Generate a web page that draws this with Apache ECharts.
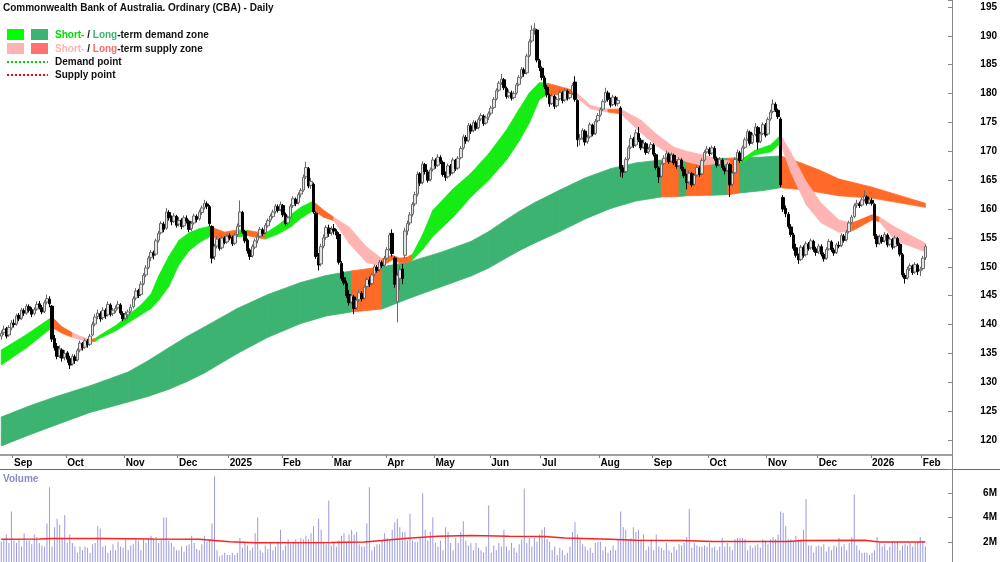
<!DOCTYPE html>
<html>
<head>
<meta charset="utf-8">
<title>CBA - Daily</title>
<script src="https://cdn.jsdelivr.net/npm/echarts@6.0.0/dist/echarts.min.js"></script>
<style>
  html, body { margin: 0; padding: 0; background: #fff; }
  #chart { width: 1000px; height: 562px; }
</style>
</head>
<body>
<div id="chart"></div>
<script>
// ASX non-trading days inside the range
const holidays = ['2024-12-25', '2024-12-26', '2025-01-01', '2025-01-27', '2025-04-18', '2025-04-21',
  '2025-04-25', '2025-06-09', '2025-12-25', '2025-12-26', '2026-01-01', '2026-01-26'];
const monthNames = ['Jan', 'Feb', 'Mar', 'Apr', 'May', 'Jun', 'Jul', 'Aug', 'Sep', 'Oct', 'Nov', 'Dec'];

// daily bars [open, high, low, close]
const aug24 = [[138.0,139.0,137.4,138.5],[138.6,139.8,138.2,139.2],[139.3,139.6,137.6,138.0],[138.2,139.9,137.9,139.5],[139.4,140.8,139.0,140.3]];
const sep24 = [[140.2,140.9,139.5,140.0],[140.1,141.9,139.8,141.5],[141.6,142.0,140.6,141.0],[141.1,142.9,140.8,142.5],[142.4,142.8,141.5,142.0],
  [142.0,143.6,141.7,143.2],[143.1,143.5,142.1,142.5],[142.6,143.0,141.3,141.8],[141.9,143.0,141.6,142.6],[142.7,144.0,142.4,143.5],
  [143.6,144.1,142.6,143.0],[142.9,143.4,141.8,142.2],[142.3,144.2,142.0,143.8],[143.9,145.2,143.5,144.5],[144.4,144.9,143.0,143.6],
  [143.2,143.4,137.0,137.5],[137.6,138.2,135.5,136.0],[136.2,136.8,134.0,134.5],[134.6,136.4,134.2,135.8],[135.6,135.9,133.6,134.2],
  [134.3,135.6,133.8,135.0]];
const oct24 = [[135.1,135.4,133.4,134.0],[134.1,134.6,132.3,133.0],[133.2,134.9,132.9,134.5],[134.4,134.8,133.2,133.8],[133.9,135.9,133.6,135.5],
  [135.6,137.2,135.2,136.8],[136.7,137.0,135.5,136.0],[136.1,137.6,135.8,137.2],[137.1,137.5,136.0,136.5],[136.6,138.4,136.3,138.0],
  [138.2,140.5,138.0,140.0],[140.1,141.8,139.7,141.3],[141.4,142.6,140.9,142.0],[141.9,142.3,140.5,141.0],[141.2,143.0,140.8,142.5],
  [142.4,142.8,141.0,141.5],[141.7,144.0,141.4,143.5],[143.4,143.7,141.4,141.8],[141.9,142.9,141.5,142.5],[142.4,143.3,142.0,142.8],
  [142.9,144.1,142.6,143.5],[143.4,143.7,141.7,142.0],[141.9,142.3,140.6,141.0]];
const nov24 = [[141.1,142.3,140.7,141.8],[141.7,142.6,141.0,142.2],[142.3,143.5,142.0,143.0],[143.1,144.9,142.8,144.5],[144.6,146.3,144.2,145.8],
  [145.9,146.2,144.6,145.0],[145.2,147.5,144.9,147.0],[147.1,148.9,146.8,148.5],[148.6,150.3,148.2,149.8],[149.9,151.9,149.6,151.5],
  [151.6,152.9,151.0,152.5],[152.4,152.8,151.3,152.0],[152.2,154.9,151.9,154.5],[154.6,156.2,154.2,155.8],[155.9,157.9,155.6,157.5],
  [157.4,157.8,156.0,156.5],[156.7,160.2,156.4,159.5],[159.4,159.8,158.0,158.5],[158.4,158.9,157.2,157.8],[157.9,159.3,157.6,158.8],
  [158.7,159.0,156.8,157.2]];
const dec24 = [[157.4,158.6,157.0,158.0],[158.1,158.4,156.5,157.0],[157.1,158.9,156.8,158.5],[158.4,158.9,157.5,158.0],[157.9,158.2,156.0,156.5],
  [156.6,157.9,156.2,157.5],[157.6,159.2,157.3,158.8],[158.7,159.1,157.7,158.2],[158.3,159.9,158.0,159.5],[159.4,160.6,159.0,160.2],
  [160.3,161.6,159.9,161.0],[160.9,161.3,160.0,160.5],[160.4,160.7,157.0,157.5],[157.0,157.2,150.6,151.5],[151.8,154.0,151.2,153.5],
  [153.6,155.3,153.2,154.8],[154.7,155.0,152.8,153.2],[153.3,155.4,153.0,155.0],[155.0,155.3,153.9,154.2],[154.3,155.7,154.0,155.3]];
const jan25 = [[155.4,155.8,154.6,155.0],[155.1,155.4,153.6,154.0],[154.1,155.9,153.8,155.5],[155.6,157.5,155.2,157.0],[157.1,161.5,156.9,159.5],
  [159.4,159.7,155.7,156.0],[156.1,156.4,154.1,154.5],[154.6,154.9,152.3,152.8],[152.9,153.2,151.2,151.8],[151.9,153.9,151.6,153.5],
  [153.4,154.9,153.1,154.5],[154.6,155.6,154.1,155.2],[155.3,156.9,155.0,156.5],[156.4,156.8,155.3,155.8],[155.9,157.6,155.6,157.2],
  [157.1,158.4,156.8,158.0],[158.1,159.2,157.7,158.8],[158.7,159.9,158.4,159.5],[159.6,160.9,159.2,160.5],[160.4,160.8,159.4,159.8],
  [159.9,161.3,159.6,160.8]];
const feb25 = [[160.6,160.9,158.6,159.0],[159.1,159.4,157.1,157.5],[157.6,158.9,157.2,158.5],[158.6,160.9,158.3,160.5],[160.6,162.2,160.2,161.8],
  [161.7,162.0,160.5,161.0],[161.1,162.9,160.8,162.5],[162.6,163.6,162.0,163.2],[163.3,166.0,163.0,165.5],[165.6,168.2,165.2,167.2],
  [167.0,167.3,163.6,164.0],[164.1,165.4,163.5,164.8],[164.3,164.6,159.2,159.5],[159.3,159.6,151.4,151.8],[151.6,152.4,149.4,150.3],
  [150.5,154.0,150.1,153.5],[153.6,155.6,153.2,155.0],[155.1,157.2,154.7,156.8],[156.7,157.3,155.2,155.8],[155.9,157.0,155.4,156.5]];
const mar25 = [[156.6,157.4,155.6,156.2],[156.1,156.5,154.8,155.5],[155.6,156.0,150.4,150.8],[150.6,151.0,147.6,148.0],[148.1,149.2,146.8,147.2],
  [147.1,147.6,144.6,145.0],[145.2,146.0,143.3,143.8],[143.9,145.4,143.5,145.0],[144.8,145.1,141.8,142.8],[142.9,144.6,142.5,144.2],
  [144.3,146.0,143.9,145.5],[145.4,145.8,144.0,144.5],[144.6,146.9,144.3,146.5],[146.6,148.2,146.2,147.8],[147.7,148.3,146.5,147.0],
  [147.1,149.0,146.8,148.6],[148.7,150.4,148.3,150.0],[149.9,150.3,149.0,149.4],[149.5,151.2,149.1,150.8],[150.7,151.1,149.8,150.2],
  [150.3,151.9,150.0,151.4]];
const apr25 = [[151.5,153.4,151.2,153.0],[153.1,155.9,152.8,155.5],[155.8,156.5,151.8,152.3],[151.5,151.8,146.4,147.0],[144.0,149.0,140.4,148.5],
  [148.0,150.2,146.0,149.5],[149.6,150.5,147.0,148.0],[152.0,156.8,151.5,156.2],[156.2,158.0,155.5,157.5],[157.6,159.5,157.2,159.0],
  [159.1,161.2,158.7,160.8],[160.9,163.0,160.5,162.5],[162.6,166.5,162.2,166.0],[166.1,166.4,164.0,164.5],[164.6,168.3,164.3,167.8],
  [167.7,168.0,166.0,166.5],[166.4,166.8,164.6,165.0],[165.1,167.2,164.8,166.8],[166.9,169.0,166.5,168.5]];
const may25 = [[168.4,168.8,167.0,167.5],[167.6,169.5,167.3,169.0],[168.9,169.3,167.8,168.2],[168.1,168.4,165.6,166.0],[166.1,166.5,164.9,165.5],
  [165.6,167.9,165.3,167.5],[167.4,167.8,165.8,166.2],[166.3,168.9,166.0,168.5],[168.4,168.7,166.6,167.0],[167.1,169.2,166.8,168.8],
  [168.9,170.9,168.6,170.5],[170.6,172.9,170.3,172.5],[172.4,172.8,171.3,171.8],[171.9,174.9,171.6,174.5],[174.4,174.8,173.0,173.5],
  [173.6,175.4,173.3,175.0],[174.9,175.3,173.6,174.0],[174.1,175.9,173.8,175.5],[175.6,176.6,175.2,176.2],[176.1,176.4,174.4,174.8],
  [174.9,176.2,174.6,175.8],[175.9,176.9,175.4,176.5]];
const jun25 = [[176.6,177.9,176.2,177.5],[177.6,179.4,177.3,179.0],[179.1,180.9,178.8,180.5],[180.6,182.2,180.3,181.8],[181.9,183.4,181.5,182.5],
  [182.4,182.7,180.6,181.0],[180.9,181.2,179.1,179.5],[179.6,180.7,179.2,180.2],[180.1,180.5,178.8,179.2],[179.3,180.4,179.0,180.0],
  [180.1,181.9,179.8,181.5],[181.6,183.2,181.3,182.8],[182.9,184.6,182.6,184.2],[184.1,184.5,182.9,183.5],[183.6,186.9,183.3,186.5],
  [186.6,189.4,186.3,189.0],[189.1,191.8,188.8,191.0],[191.1,192.2,190.2,191.3],[191.0,191.2,185.4,185.8],[185.7,186.0,183.9,184.5]];
const jul25 = [[184.4,184.7,182.3,182.8],[182.7,183.1,180.8,181.2],[181.1,181.5,179.3,179.8],[179.7,180.0,177.7,178.2],[178.3,180.0,178.0,179.6],
  [179.5,179.8,177.3,177.8],[177.9,179.4,177.6,179.0],[179.1,180.6,178.8,180.2],[180.1,180.4,178.3,178.8],[178.9,180.9,178.6,180.5],
  [180.4,180.7,178.8,179.2],[179.3,180.4,179.0,180.0],[180.1,181.8,179.8,181.4],[182.0,183.0,178.6,179.0],[178.8,179.0,170.8,172.0],
  [172.1,173.0,171.0,172.2],[172.3,174.0,172.0,173.6],[173.5,173.8,171.0,171.6],[171.7,172.9,171.3,172.4],[172.5,175.0,172.2,174.6],
  [174.5,174.8,172.6,173.0],[173.1,175.6,172.8,175.2],[175.3,176.6,175.0,176.2]];
const aug25 = [[176.3,177.6,176.0,177.2],[177.3,179.0,177.0,178.6],[178.7,181.0,178.4,180.2],[180.1,180.5,178.6,179.0],[178.9,179.3,177.6,178.0],
  [178.1,179.8,177.8,179.4],[179.3,179.6,177.8,178.2],[178.3,179.4,177.9,178.8],[177.5,177.8,165.6,167.0],[167.1,167.6,165.4,166.4],
  [166.5,169.0,166.2,168.6],[168.7,171.0,168.4,170.6],[170.7,172.8,170.4,172.2],[172.1,172.5,170.6,171.0],[171.1,173.8,170.8,173.2],
  [173.1,174.2,171.6,172.0],[171.9,172.3,170.2,170.6],[170.7,172.0,170.4,171.4],[171.3,171.6,169.4,169.8],[169.9,170.8,169.5,170.4],
  [170.5,171.6,170.2,171.2]];
const sep25 = [[171.1,171.4,169.1,169.5],[169.4,169.7,166.8,167.2],[167.1,167.4,164.5,165.6],[165.7,168.2,165.4,167.8],[167.9,169.3,167.6,168.8],
  [168.9,170.1,168.5,169.6],[169.5,169.8,167.8,168.2],[168.3,169.8,168.0,169.4],[169.3,169.6,167.6,168.0],[167.9,168.3,167.0,167.4],
  [167.5,169.0,167.2,168.6],[168.5,168.8,166.6,167.0],[166.9,167.3,165.4,165.8],[165.7,166.1,163.4,164.6],[164.7,166.7,164.3,166.2],
  [166.1,166.4,163.8,164.2],[164.3,166.2,164.0,165.8],[165.9,167.6,165.6,167.2],[167.1,167.5,165.6,166.0],[166.1,168.8,165.8,168.4],
  [168.5,170.2,168.2,169.8],[169.9,170.9,169.6,170.4]];
const oct25 = [[170.3,170.7,169.2,169.6],[169.7,171.0,169.4,170.6],[170.5,170.9,168.4,168.8],[168.7,169.1,167.2,167.6],[167.7,169.0,167.4,168.6],
  [168.5,168.8,166.8,167.2],[167.1,167.5,166.0,166.6],[166.7,168.2,166.4,167.8],[167.7,168.0,162.1,164.2],[164.3,166.6,163.9,166.2],
  [166.3,169.0,166.0,168.6],[168.7,170.3,168.4,169.8],[169.7,170.1,168.0,168.4],[168.5,171.0,168.2,170.6],[170.7,172.4,170.4,172.0],
  [172.1,173.8,171.8,173.4],[173.3,173.6,171.0,171.4],[171.5,173.2,171.2,172.8],[172.9,174.9,172.6,174.2],[174.1,174.4,170.3,171.6],
  [171.7,173.4,171.4,173.0],[173.1,175.0,172.8,174.6],[174.5,174.9,172.4,172.8]];
const nov25 = [[173.0,175.9,172.7,175.5],[175.6,177.2,175.3,176.8],[176.9,179.0,176.6,178.2],[178.1,178.5,176.8,177.2],[177.1,177.4,175.6,176.0],
  [175.6,175.9,163.8,164.2],[162.0,162.4,159.5,160.0],[160.1,160.6,158.6,159.2],[159.1,159.5,156.6,157.0],[156.9,157.4,155.2,155.6],
  [155.5,155.9,152.8,153.2],[153.3,154.0,151.6,152.0],[151.9,152.3,150.5,151.2],[151.3,153.8,151.0,153.4],[153.3,153.7,151.6,152.0],
  [152.1,154.4,151.8,154.0],[153.9,154.3,152.8,153.2],[153.3,154.9,153.0,154.5],[154.4,154.7,152.6,153.0],[153.1,153.5,151.9,152.5]];
const dec25 = [[152.6,154.0,152.2,153.6],[153.5,153.9,151.8,152.2],[152.1,152.5,150.9,151.4],[151.5,153.4,151.2,153.0],[153.1,154.8,152.8,154.4],
  [154.3,154.6,152.6,153.0],[152.9,153.3,151.9,152.4],[152.5,154.2,152.2,153.8],[153.7,154.4,153.2,153.6],[153.7,155.8,153.4,155.4],
  [155.3,155.7,154.2,154.6],[154.7,156.4,154.4,156.0],[156.1,158.0,155.8,157.6],[157.7,159.0,157.4,158.6],[158.7,161.0,158.4,160.6],
  [160.7,161.6,160.2,161.0],[160.9,161.3,160.2,160.6],[160.7,162.0,160.4,161.6],[161.7,163.2,161.3,162.2],[162.1,162.4,160.6,161.0],
  [161.1,162.0,160.8,161.6]];
const jan26 = [[161.5,161.9,160.6,161.0],[160.8,161.0,154.8,155.4],[155.3,155.7,153.4,154.0],[154.1,155.6,153.8,155.2],[155.1,155.5,154.0,154.4],
  [154.5,156.0,154.2,155.6],[155.5,155.8,153.4,153.8],[153.9,155.2,153.6,154.8],[154.7,155.0,153.0,153.4],[153.5,155.4,153.2,155.0],
  [154.9,155.2,153.6,154.0],[153.9,154.2,151.8,152.2],[152.1,152.4,148.2,148.6],[148.5,148.9,147.1,148.0],[148.1,150.0,147.8,149.6],
  [149.7,150.6,149.3,150.2],[150.1,150.4,148.6,149.0],[149.1,150.8,148.8,150.4],[150.3,150.6,148.6,149.2],[149.3,150.0,148.4,149.6]];
const feb26 = [[149.7,151.9,149.4,151.5],[151.6,153.9,151.2,153.5]];

// daily volume, millions of shares
const volume = [
  2.0, 2.2, 2.6, 1.9, 4.5,
  2.1, 1.9, 2.2, 1.6, 2.7, 2.1, 2.1, 1.8, 2.6, 2.4, 1.9, 1.7, 1.6, 3.5, 6.5, 1.6, 3.2, 3.9, 3.4, 2.3, 4.2,
  1.9, 2.6, 1.9, 1.6, 1.1, 1.6, 1.3, 1.6, 1.5, 1.1, 1.8, 1.9, 3.3, 3.1, 1.6, 1.7, 1.1, 1.3, 1.8, 1.3, 2.0, 1.6, 1.5,
  2.2, 1.3, 1.7, 1.8, 2.2, 2.1, 1.3, 2.2, 1.9, 2.3, 2.5, 2.2, 2.4, 1.9, 2.2, 4.0, 4.0, 2.1, 1.9, 1.6, 1.3,
  1.3, 1.6, 1.2, 1.7, 1.8, 2.5, 1.9, 1.4, 1.3, 1.8, 2.5, 2.0, 2.2, 3.5, 7.4, 1.3, 0.8, 0.9, 1.1, 0.9,
  0.9, 1.1, 0.9, 1.1, 2.3, 1.5, 2.0, 1.7, 1.3, 1.5, 2.7, 4.0, 1.3, 1.1, 1.7, 1.4, 1.9, 1.3, 1.6, 1.9, 3.0,
  1.3, 1.7, 2.2, 1.8, 2.0, 2.2, 1.9, 2.3, 2.2, 2.5, 2.2, 2.7, 3.3, 2.0, 3.9, 3.0, 1.9, 1.8, 5.4, 1.7,
  1.9, 1.6, 2.1, 2.5, 2.7, 1.9, 2.6, 3.0, 2.6, 2.8, 1.8, 1.6, 1.6, 3.5, 6.5, 1.3, 1.6, 1.8, 1.8, 2.1, 2.7,
  2.3, 2.1, 3.0, 3.6, 3.9, 3.2, 2.8, 2.8, 2.1, 4.3, 2.1, 2.0, 2.0, 2.4, 6.0, 3.0, 2.1, 2.8, 4.0,
  1.9, 1.6, 2.1, 1.3, 3.2, 2.8, 1.9, 1.3, 2.3, 1.9, 2.8, 3.7, 2.1, 1.7, 1.9, 1.3, 1.9, 1.5, 1.3, 1.1, 1.6, 5.0,
  1.1, 1.7, 1.3, 1.9, 1.6, 3.0, 1.6, 1.3, 1.9, 1.5, 1.1, 1.8, 2.2, 6.4, 1.9, 2.3, 1.6, 2.3, 2.0, 2.6,
  3.0, 3.2, 2.2, 2.0, 1.3, 1.6, 0.9, 1.5, 1.3, 0.9, 1.1, 1.6, 2.8, 3.6, 2.6, 2.2, 1.8, 1.6, 1.3, 1.5, 1.1, 1.9, 2.0,
  2.0, 1.3, 1.6, 1.1, 1.3, 1.7, 1.3, 2.2, 4.5, 3.2, 3.0, 2.2, 2.3, 3.2, 2.8, 3.0, 2.2, 2.6, 1.3, 1.6, 2.2,
  1.3, 2.6, 1.6, 1.5, 1.3, 1.9, 1.3, 1.1, 1.6, 1.3, 1.8, 1.7, 1.9, 2.4, 4.7, 1.5, 1.9, 1.7, 1.6, 1.6, 1.7, 1.6,
  1.9, 1.5, 1.6, 1.3, 1.6, 2.3, 1.6, 1.9, 1.6, 1.3, 2.2, 2.3, 2.3, 2.3, 2.2, 1.3, 1.7, 1.5, 1.7, 1.8, 1.5, 2.2, 2.1,
  1.8, 2.2, 2.4, 2.2, 2.6, 4.5, 4.4, 3.3, 2.2, 2.2, 2.0, 2.5, 2.2, 2.2, 3.0, 5.5, 1.7, 1.7, 1.1, 1.6,
  1.7, 1.6, 1.8, 1.2, 1.6, 1.3, 1.7, 1.6, 2.3, 1.6, 1.8, 1.3, 1.9, 2.4, 5.9, 1.7, 1.3, 1.1, 1.1, 1.1, 0.9,
  1.1, 1.3, 2.4, 1.9, 1.6, 1.8, 1.3, 1.6, 2.0, 1.9, 2.0, 1.3, 1.7, 1.8, 1.7, 1.9, 1.6, 1.9, 2.0, 2.4,
  2.1, 1.6
];

// volume moving average (red line), read at bar index
const volMaIdx = [0, 15, 20, 40, 60, 78, 84, 90, 100, 130, 143, 150, 160, 172, 185, 200, 214, 222, 240, 250, 268, 280, 310, 316, 340, 346, 364];
const volMaVal = [2.2, 2.22, 2.27, 2.27, 2.22, 2.2, 2.1, 2.0, 1.92, 1.93, 1.98, 2.1, 2.28, 2.45, 2.52, 2.45, 2.43, 2.3, 2.2, 2.12, 2.1, 2.03, 2.03, 2.1, 2.12, 1.98, 1.97];

// long-term zone edges at bar index
const longIdx = [0, 11, 22, 35, 50, 58, 66, 73, 80, 93, 105, 118, 128, 138, 150, 161, 173, 185, 192, 198,
  204, 210, 220, 230, 240, 250, 260, 267, 270, 280, 286, 291, 300, 307, 315, 322, 330, 343, 355, 364];
const longUp = [124.0, 125.9, 127.6, 129.4, 131.8, 133.8, 136.0, 137.9, 139.6, 142.8, 145.2, 147.3, 148.5, 149.3, 150.0, 150.9, 152.5, 154.4, 156.1, 157.9,
  159.6, 161.1, 163.3, 165.4, 167.0, 168.0, 168.5, 168.6, 168.7, 168.8, 168.8, 168.9, 169.0, 169.2, 168.0, 166.8, 165.2, 163.8, 162.2, 161.0];
const longLo = [119.0, 120.9, 122.7, 124.8, 126.6, 127.6, 128.8, 130.1, 131.6, 135.0, 137.8, 140.2, 141.5, 142.2, 142.7, 144.6, 146.5, 148.4, 149.8, 151.3,
  152.8, 154.1, 156.1, 158.3, 160.1, 161.4, 162.1, 162.2, 162.3, 162.4, 162.5, 162.8, 163.2, 163.7, 163.4, 162.9, 162.3, 161.9, 161.0, 160.3];
// bar ranges where the long-term zone is supply
const longSupply = [[138, 150], [260, 267], [270, 280], [286, 291], [307, 364]];

// short-term zone edges at bar index, state of each segment: g demand, p supply, o mixed
const shortIdx = [0, 10, 20, 24, 28, 31, 35, 37, 39, 45, 50, 55, 59, 62, 66, 70, 74, 78, 82, 88,
  93, 97, 104, 109, 114, 118, 122, 123, 127, 131, 137, 144, 150, 154, 157, 160, 162, 166, 170, 178,
  185, 192, 199, 204, 208, 212, 215, 225, 226, 232, 236, 239, 244, 252, 258, 265, 270, 276, 284, 287,
  291, 297, 303, 307, 311, 317, 323, 330, 335, 338, 343, 346, 352, 364];
const shortUp = [135.6, 138.3, 141.3, 139.6, 138.6, 138.0, 137.4, 137.6, 138.2, 139.8, 141.6, 143.4, 145.3, 148.4, 151.8, 154.6, 155.9, 156.6, 157.0, 156.0,
  156.4, 156.3, 155.8, 157.2, 159.0, 160.3, 161.2, 161.3, 159.8, 158.6, 156.9, 153.4, 151.4, 152.0, 151.5, 151.7, 152.2, 155.6, 159.8, 163.5,
  166.2, 169.6, 173.7, 177.3, 180.1, 181.9, 181.8, 180.6, 180.4, 178.0, 177.5, 177.3, 177.3, 175.4, 173.0, 170.7, 170.0, 169.4, 168.5, 168.3,
  168.4, 170.2, 171.1, 172.8, 169.8, 164.8, 161.0, 158.1, 157.6, 158.1, 159.0, 158.6, 156.9, 154.1];
const shortLo = [133.0, 136.0, 139.5, 138.5, 137.8, 137.4, 137.0, 137.1, 137.7, 138.9, 140.3, 141.7, 142.8, 144.2, 146.6, 150.4, 152.8, 154.2, 155.2, 154.6,
  155.2, 155.4, 154.8, 155.7, 156.9, 158.4, 159.5, 159.7, 158.6, 158.0, 154.1, 150.7, 150.2, 151.2, 150.7, 150.8, 151.2, 153.0, 155.3, 158.6,
  162.1, 165.0, 168.5, 171.8, 174.9, 179.0, 179.8, 179.8, 179.6, 177.4, 177.0, 176.8, 176.5, 173.2, 171.0, 169.0, 168.2, 167.6, 168.0, 167.8,
  167.9, 169.4, 169.9, 171.4, 166.4, 160.8, 157.6, 156.0, 156.2, 156.9, 158.1, 157.8, 154.6, 152.6];
const shortState = 'ggooppoggg' + 'ggggggggoo' + 'gogggggoop' + 'ppoooogggg' + 'ggggggoopp' +
  'popppppppo' + 'gggpppppoo' + 'opp';

const FONT = '"Liberation Sans", Arial, sans-serif';
const BLANK_DAYS = 10;

const ohlc = [].concat(aug24, sep24, oct24, nov24, dec24, jan25, feb25, mar25, apr25, may25,
  jun25, jul25, aug25, sep25, oct25, nov25, dec25, jan26, feb26);

// trading days from the first bar on
function buildDates(start, count) {
  const out = [];
  const d = new Date(start + 'T00:00:00Z');
  while (out.length < count) {
    const s = d.toISOString().slice(0, 10);
    const dow = d.getUTCDay();
    if (dow !== 0 && dow !== 6 && holidays.indexOf(s) < 0) out.push(s);
    d.setUTCDate(d.getUTCDate() + 1);
  }
  return out;
}
const dates = buildDates('2024-08-26', ohlc.length + BLANK_DAYS);
const monthStart = dates.map((d, i) => i > 0 && d.slice(5, 7) !== dates[i - 1].slice(5, 7));
const monthLabel = (v) => {
  const m = +v.slice(5, 7);
  return m === 1 ? v.slice(0, 4) : monthNames[m - 1];
};

// 0 short demand, 1 long demand, 2 short supply, 3 mixed / long supply
const bandColors = ['#14ec14', '#3cb371', '#ffb4b4', '#ff6a26'];
const stateCode = { g: 0, p: 2, o: 3 };

function segments(idx, up, lo, codeAt) {
  const out = [];
  for (let k = 0; k < idx.length - 1; k++) {
    out.push([idx[k], up[k], lo[k], idx[k + 1], up[k + 1], lo[k + 1], codeAt(k)]);
  }
  return out;
}
const longSegs = segments(longIdx, longUp, longLo,
  k => longSupply.some(r => longIdx[k] >= r[0] && longIdx[k] < r[1]) ? 3 : 1);
const shortSegs = segments(shortIdx, shortUp, shortLo, k => stateCode[shortState[k]]);

function bandItem(params, api) {
  const a = api.coord([api.value(0), api.value(1)]);
  const b = api.coord([api.value(3), api.value(4)]);
  const c = api.coord([api.value(3), api.value(5)]);
  const d = api.coord([api.value(0), api.value(2)]);
  const col = bandColors[api.value(6)];
  return {
    type: 'polygon',
    shape: { points: [a, b, c, d] },
    style: { fill: col, stroke: col, lineWidth: 0.8 }
  };
}

const chart = echarts.init(document.getElementById('chart'));

const legendFont = 'bold 10px ' + FONT;

const option = {
  animation: false,
  backgroundColor: '#fff',
  grid: [
    { left: 0, right: 48, top: 0, height: 469, outerBoundsMode: 'none' },
    { left: 0, right: 48, top: 469, height: 97, outerBoundsMode: 'none' }
  ],
  xAxis: [
    {
      type: 'category', gridIndex: 0, data: dates, boundaryGap: true, offset: -14,
      axisLine: { show: true, lineStyle: { color: '#a0a0a0', width: 2 } },
      axisTick: { show: true, interval: (i) => monthStart[i], length: 3, lineStyle: { color: '#808080' } },
      axisLabel: {
        show: true, interval: (i) => monthStart[i], formatter: (v) => monthLabel(v),
        align: 'left', margin: 3, color: '#000', fontWeight: 'bold', fontSize: 10, fontFamily: FONT
      },
      splitLine: { show: false }
    },
    {
      type: 'category', gridIndex: 1, data: dates, boundaryGap: true, position: 'top',
      axisLine: { show: false }, axisTick: { show: false }, axisLabel: { show: false },
      splitLine: { show: false }
    }
  ],
  yAxis: [
    {
      type: 'value', gridIndex: 0, position: 'right', min: 115, max: 196.2, interval: 5,
      axisLine: { show: true, lineStyle: { color: '#888' } },
      axisTick: { show: true, inside: true, length: 4, lineStyle: { color: '#888' } },
      axisLabel: {
        margin: 45, align: 'right', color: '#000', fontWeight: 'bold', fontSize: 10, fontFamily: FONT,
        formatter: (v) => (v >= 120 && v <= 195 && v % 5 === 0) ? String(v) : ''
      },
      splitLine: { show: false }
    },
    {
      type: 'value', gridIndex: 1, position: 'right', min: 0, max: 8, interval: 2,
      axisLine: { show: true, lineStyle: { color: '#888' } },
      axisTick: { show: true, inside: true, length: 4, lineStyle: { color: '#888' } },
      axisLabel: {
        margin: 45, align: 'right', color: '#000', fontWeight: 'bold', fontSize: 10, fontFamily: FONT,
        formatter: (v) => (v > 0 && v < 8) ? v + 'M' : ''
      },
      splitLine: { show: false }
    }
  ],
  series: [
    {
      name: 'Long-term zone', type: 'custom', xAxisIndex: 0, yAxisIndex: 0, z: 1,
      renderItem: bandItem, encode: { x: 0, y: [1, 2] }, data: longSegs, silent: true
    },
    {
      name: 'Short-term zone', type: 'custom', xAxisIndex: 0, yAxisIndex: 0, z: 2,
      renderItem: bandItem, encode: { x: 0, y: [1, 2] }, data: shortSegs, silent: true
    },
    {
      name: 'CBA', type: 'candlestick', xAxisIndex: 0, yAxisIndex: 0, z: 3, barWidth: 3,
      data: ohlc.map(d => [d[0], d[3], d[2], d[1]]),
      itemStyle: { color: '#e4e4e4', color0: '#000', borderColor: '#6a6a6a', borderColor0: '#000', borderWidth: 1 }
    },
    {
      name: 'Volume', type: 'bar', xAxisIndex: 1, yAxisIndex: 1, barWidth: 1,
      data: volume, itemStyle: { color: '#9a9ade' }
    },
    {
      name: 'Volume average', type: 'line', xAxisIndex: 1, yAxisIndex: 1, showSymbol: false,
      data: volMaIdx.map((x, k) => [x, volMaVal[k]]),
      lineStyle: { color: '#ff2020', width: 1.5 }
    }
  ],
  graphic: [
    { type: 'line', shape: { x1: 0, y1: 469.5, x2: 1000, y2: 469.5 }, style: { stroke: '#6e6e6e', lineWidth: 1 } },
    { type: 'text', x: 3, y: 8, style: { text: 'Commonwealth Bank of Australia. Ordinary (CBA) - Daily', font: legendFont, fill: '#111', verticalAlign: 'middle' } },
    { type: 'rect', shape: { x: 7, y: 29, width: 17, height: 11 }, style: { fill: '#00ff00' } },
    { type: 'rect', shape: { x: 31, y: 29, width: 17, height: 11 }, style: { fill: '#3cb371' } },
    {
      type: 'text', x: 55, y: 35,
      style: {
        text: '{g|Short-} / {d|Long}-term demand zone', font: legendFont, fill: '#111', verticalAlign: 'middle',
        rich: { g: { fill: '#00e000', font: legendFont }, d: { fill: '#3cb371', font: legendFont } }
      }
    },
    { type: 'rect', shape: { x: 7, y: 43, width: 17, height: 11 }, style: { fill: '#ffb4b4' } },
    { type: 'rect', shape: { x: 31, y: 43, width: 17, height: 11 }, style: { fill: '#ff7070' } },
    {
      type: 'text', x: 55, y: 49,
      style: {
        text: '{p|Short-} / {r|Long}-term supply zone', font: legendFont, fill: '#111', verticalAlign: 'middle',
        rich: { p: { fill: '#ffb4b4', font: legendFont }, r: { fill: '#ff6a6a', font: legendFont } }
      }
    },
    { type: 'line', shape: { x1: 7, y1: 62, x2: 48, y2: 62 }, style: { stroke: '#00d000', lineWidth: 2, lineDash: [2, 2] } },
    { type: 'text', x: 55, y: 62, style: { text: 'Demand point', font: legendFont, fill: '#111', verticalAlign: 'middle' } },
    { type: 'line', shape: { x1: 7, y1: 75, x2: 48, y2: 75 }, style: { stroke: '#ff0000', lineWidth: 2, lineDash: [2, 2] } },
    { type: 'text', x: 55, y: 75, style: { text: 'Supply point', font: legendFont, fill: '#111', verticalAlign: 'middle' } },
    { type: 'text', x: 3, y: 479, style: { text: 'Volume', font: legendFont, fill: '#8a8ac6', verticalAlign: 'middle' } }
  ]
};

chart.setOption(option);
window.addEventListener('resize', () => chart.resize());
</script>
</body>
</html>
